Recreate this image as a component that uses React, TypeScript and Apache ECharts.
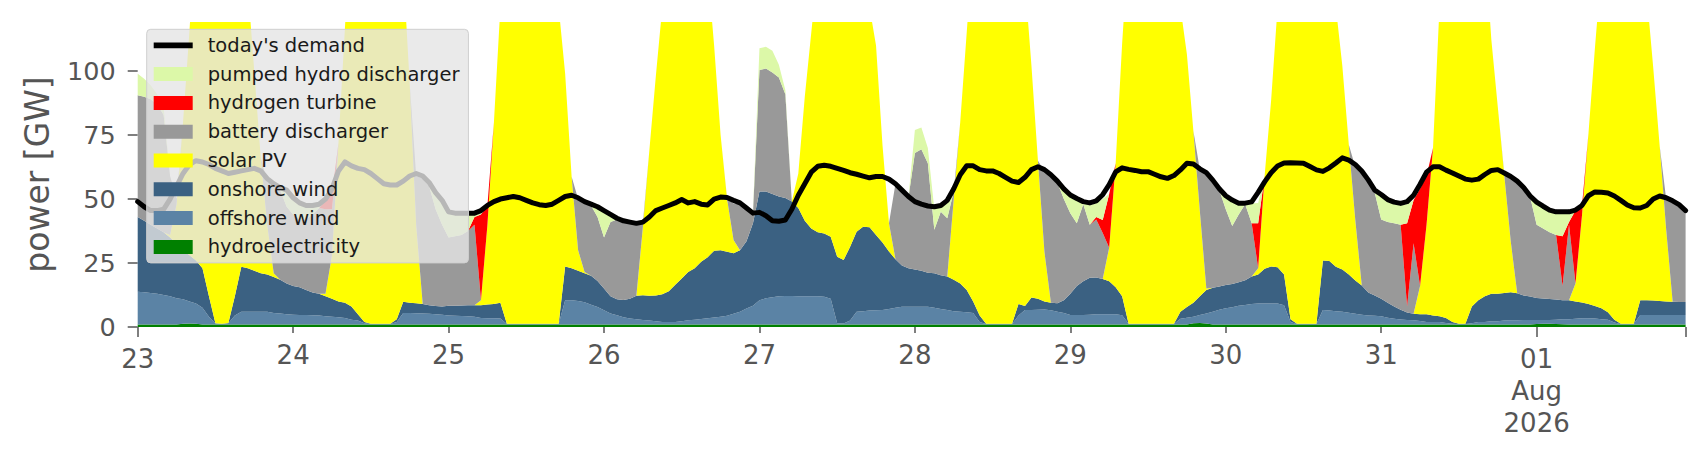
import React, { useEffect, useRef } from "react";
import * as echarts from "echarts";

// ---- tick labels (one per day) ----
const DAY_LABELS = ["23", "24", "25", "26", "27", "28", "29", "30", "31", "01\nAug\n2026"];
const START_UTC = Date.UTC(2026, 6, 23, 0, 0, 0);

// ---- hourly generation [GW], 23 Jul 00:00 .. 01 Aug 23:00 ----
const HYDRO = [
  1, 1, 1, 1, 1, 1, 1, 1.3, 1.4, 1.3, 1, 1, 1, 1, 1, 1, 1, 1, 1, 1, 1, 1, 1, 1,
  1, 1, 1, 1, 1, 1, 1, 1, 1, 1, 1, 1, 1, 1, 1, 1, 1, 1, 1, 1, 1, 1, 1, 1,
  1, 1, 1, 1, 1, 1, 1, 1, 1, 1, 1, 1, 1, 1, 1, 1, 1, 1, 1, 1, 1, 1, 1, 1,
  1, 1, 1, 1, 1, 1, 1, 1, 1, 1, 1, 1, 1, 1, 1, 1, 1, 1, 1, 1, 1, 1, 1, 1,
  1, 1, 1, 1, 1, 1, 1, 1, 1, 1, 1, 1, 1, 1, 1, 1, 1, 1, 1, 1, 1, 1, 1, 1,
  1, 1, 1, 1, 1, 1, 1, 1, 1, 1, 1, 1, 1, 1, 1, 1, 1, 1, 1, 1, 1, 1, 1, 1,
  1, 1, 1, 1, 1, 1, 1, 1, 1, 1, 1, 1, 1, 1, 1, 1, 1, 1, 1, 1.5, 1.6, 1.4, 1, 1,
  1, 1, 1, 1, 1, 1, 1, 1, 1, 1, 1, 1, 1, 1, 1, 1, 1, 1, 1, 1, 1, 1, 1, 1,
  1, 1, 1, 1, 1, 1, 1, 1, 1, 1, 1, 1, 1, 1, 1, 1, 1, 1, 1, 1, 1, 1, 1, 1,
  1.2, 1.3, 1.3, 1.2, 1.1, 1, 1, 1, 1, 1, 1, 1, 1, 1, 1, 1, 1, 1, 1, 1, 1, 1, 1, 1,
];

const OFFSHORE = [
  12.8, 12.6, 12.3, 12, 11.5, 11, 10.2, 9.5, 8.6, 7.9, 6.5, 3, 0.4, 0.2, 0.5, 3.5, 5, 5, 5, 5, 5, 4.5, 4.3, 4,
  3.8, 3.7, 3.7, 3.6, 3.5, 3.2, 3, 2.8, 2.5, 1.8, 1.5, 0.5, 0.2, 0.2, 0.2, 0.2, 1, 4.5, 4.5, 4.4, 4.3, 4.2, 4, 3.8,
  3.5, 3.4, 3.3, 3.2, 3, 2.5, 2.4, 2.4, 2.3, 0.2, 0.2, 0.2, 0.2, 0.2, 0.2, 0.2, 0.2, 0.2, 9.5, 9.5, 9.2, 8.7, 7.7, 6.8,
  5.5, 4.3, 3.6, 2.8, 2.3, 2, 1.7, 1.5, 1.2, 1, 1, 1, 1.2, 1.6, 1.8, 2.1, 2.4, 2.7, 3, 3.4, 4.2, 5, 6.2, 7.3,
  9.5, 10.2, 10.6, 11, 11.1, 11.1, 11, 11, 11, 11, 10.8, 10, 0.5, 0.4, 1.5, 5, 5.2, 5.4, 5.5, 5.6, 6, 6.5, 6.9, 6.9,
  6.9, 6.9, 6.9, 6.5, 6, 5.6, 5.2, 5, 4.8, 4.5, 1, 0.2, 0.2, 0.2, 0.2, 0.2, 3.5, 5.6, 5.6, 5.7, 5.8, 5.5, 5, 4.5,
  3.7, 3.7, 3.7, 3.8, 4, 4, 4, 4, 3.6, 0.3, 0.2, 0.2, 0.2, 0.2, 0.2, 0.2, 0.2, 2.2, 2.6, 2.5, 3.1, 3.9, 5, 5.7,
  6.3, 6.7, 7.3, 7.6, 8, 8.2, 8.2, 8.2, 8.2, 7.5, 1, 0.2, 0.2, 0.2, 0.2, 5.6, 5.4, 5.2, 5, 4.6, 4.2, 3.8, 3.5, 3.4,
  3.2, 2.6, 2.2, 1.9, 1.7, 1.6, 1.3, 1, 1, 1, 0.6, 0.3, 0.2, 0.2, 0.5, 1, 1, 1.2, 1.2, 1.5, 1.6, 1.6, 1.7, 1.7,
  1.5, 1.4, 1.4, 1.6, 1.9, 2, 2.2, 2.4, 2.4, 2.3, 2, 1.8, 0.8, 0.2, 0.2, 0.2, 3.7, 3.7, 3.7, 3.7, 3.7, 3.7, 3.7, 3.7,
];

const ONSHORE = [
  29.2, 27.9, 26.7, 25.5, 24.5, 23, 21.3, 19.2, 18, 16.8, 15.5, 8, 0.1, 0.1, 0.1, 7.5, 17.5, 17, 16, 15, 14.5, 14, 13.2, 12,
  11.2, 10.8, 9.8, 8.9, 8.5, 7.8, 7, 6.2, 6, 5.2, 2.5, 0.5, 0.1, 0.1, 0.1, 0.1, 1, 4.4, 4, 3.9, 3.7, 3.3, 3.2, 3.2,
  3.8, 3.9, 4.1, 4.3, 4.5, 5, 5.4, 5.6, 6.2, 0.1, 0.1, 0.1, 0.1, 0.1, 0.1, 0.1, 0.1, 0.1, 13.1, 12.5, 11.8, 11.3, 11.3, 10.2,
  8.5, 6.7, 6.2, 6.8, 7.7, 9.2, 9.7, 9.7, 10.1, 10.8, 12, 14.5, 16.8, 18.9, 20.2, 22.4, 23.9, 26.1, 26, 25, 23.6, 24, 26.3, 32.2,
  42.5, 41.8, 40.4, 39, 38.3, 36.9, 34.5, 29.5, 26.5, 25, 24.7, 24.3, 26, 24.8, 28.9, 31.2, 33, 32.6, 29.5, 26.4, 22.5, 19, 16.1, 15.1,
  14.6, 14.1, 13.3, 13.5, 13.2, 13.1, 12.3, 11, 8.7, 4.5, 2.5, 0.1, 0.1, 0.1, 0.1, 0.1, 4.5, 1.6, 4.9, 4.3, 3.2, 3, 3.3, 5,
  8.3, 11.3, 13.2, 14.4, 14.3, 13.8, 12.9, 10.5, 7.4, 0, 0.1, 0.1, 0.1, 0.1, 0.1, 0.1, 0.1, 2.8, 4.2, 5.5, 7.3, 9.2, 9.3, 9.1,
  9.1, 9.1, 9.2, 9.7, 10.7, 11.3, 13.6, 14.4, 14.2, 12, 1, 0.1, 0.1, 0.1, 0.1, 19.4, 19.4, 17.3, 16.5, 14.9, 13, 11.4, 9, 7.9,
  6.8, 5.9, 4.8, 3.8, 3, 2.6, 2.7, 3, 2.5, 2.2, 1.9, 0.7, 0.1, 0.1, 6.5, 8.5, 10, 10.8, 10.8, 10.8, 11, 10.6, 9.6, 9.2,
  8.6, 8.4, 8.2, 7.9, 7.5, 7.5, 6.8, 6.2, 5.6, 4.9, 4.3, 3, 1, 0.1, 0.1, 0.1, 5.8, 5.8, 5.7, 5.5, 5.3, 5.2, 5.1, 5.1,
];

const SOLAR = [
  0, 0, 0, 0, 0, 1, 15.5, 50, 88, 132, 167, 198, 213.5, 213.7, 203.4, 173, 136.5, 110, 78, 45, 19.5, 1.5, 0, 0,
  0, 0, 0, 0, 0, 1, 17, 62, 107.5, 152, 190, 213, 218.7, 218.7, 208.7, 188.7, 167, 130.1, 85.5, 30.7, 0, 0, 0, 0,
  0, 0, 0, 0, 0, 2, 31.2, 71, 115.5, 163.7, 193.7, 208.7, 213.7, 208.7, 193.7, 173.7, 148.7, 123.7, 75.4, 35.7, 8, 0.5, 0, 0,
  0, 0, 0, 0, 0, 0, 26.6, 56.8, 85.7, 112.2, 136, 153.5, 161, 158.5, 152, 134.5, 112.7, 80.2, 45, 20.6, 5.2, 0, 0, 0,
  0, 0, 0, 0, 0, 0, 13.5, 48.5, 76.5, 103, 133.5, 154.7, 172.5, 173.8, 163.6, 147.8, 120.8, 86, 74, 38, 11, 0, 0, 0,
  0, 0, 0, 0, 0, 0, 31.5, 63, 100.5, 140, 175.5, 198.7, 208.7, 213.7, 208.7, 198.7, 171, 126.8, 90.5, 54, 19.4, 0, 0, 0,
  0, 0, 0, 0, 0, 0, 13.1, 48.5, 98.8, 148.7, 178.7, 198.7, 208.7, 213.7, 208.7, 193.7, 158.7, 119, 98.8, 67.1, 33.2, 0.5, 0, 0,
  0, 0, 0, 0, 0, 2.5, 36.3, 64.8, 101.6, 139.5, 187, 203.7, 213.7, 213.7, 203.7, 159, 129.2, 101.5, 79.5, 50.7, 23.6, 0, 0, 0,
  0, 0, 0, 0, 0, 0, 11, 35, 65.5, 120.8, 156.5, 188, 203.7, 208.7, 192, 174.5, 138, 99.5, 73.1, 46.1, 19.9, 0, 0, 0,
  0, 0, 0, 0, 0, 0, 7, 34, 66.5, 100.8, 132.7, 159.2, 177.2, 183.7, 183.7, 173.7, 149.5, 119.5, 91, 60.4, 28.1, 0, 0, 0,
];

const BATTERY = [
  47.6, 48.5, 49, 48.5, 46, 23, 2, 0, 0, 0, 0, 0, 0, 0, 0, 0, 0, 0, 0, 0, 17, 34, 35, 30,
  28, 26.5, 27.5, 30.5, 33.5, 33, 18, 0, 0, 0, 0, 0, 0, 0, 0, 0, 0, 0, 0, 19, 49, 46.5, 37.8, 32,
  26.7, 27.2, 27.6, 29, 31.5, 0, 0, 0, 0, 0, 0, 0, 0, 0, 0, 0, 0, 0, 0, 0, 20, 27, 27.5, 25,
  20, 29, 31.2, 30.4, 29.5, 27.8, 1.5, 0, 0, 0, 0, 0, 0, 0, 0, 0, 0, 0, 0, 0.3, 14.3, 18, 13, 4,
  47.4, 48, 47.5, 46.5, 40.6, 0, 0, 0, 0, 0, 0, 0, 0, 0, 0, 0, 0, 0, 0, 0, 0, 29.5, 29, 27.5,
  45.5, 47.5, 42.8, 17, 24.8, 22.8, 3, 0, 0, 0, 0, 0, 0, 0, 0, 0, 0, 0, 0, 0, 31.6, 49.5, 47.2, 39.5,
  31.5, 24.5, 30.1, 20.8, 22.7, 17.9, 0, 0, 0, 0, 0, 0, 0, 0, 0, 0, 0, 0, 0, 0, 16.3, 44.5, 42.2, 37.7,
  29.6, 22.7, 26.5, 29.7, 20.8, 0, 0, 0, 0, 0, 0, 0, 0, 0, 0, 0, 0, 0, 0, 0, 20.7, 44.8, 43.5, 40.2,
  31, 31.5, 32.5, 33.3, 2.3, 27.5, 0, 0, 0, 0, 0, 0, 0, 0, 0, 0, 0, 0, 0, 0.6, 25, 43.3, 41.7, 38.9,
  28.7, 27.4, 26.1, 25.3, 5.5, 29.5, 0, 0, 0, 0, 0, 0, 0, 0, 0, 0, 0, 0, 0, 0, 11.9, 38.9, 37.5, 35.2,
];

const HYDROGEN = [
  0, 0, 0, 0, 0, 0, 0, 0, 0, 0, 0, 0, 0, 0, 0, 0, 0, 0, 0, 0, 0, 0, 0, 0,
  0, 0, 0, 0, 0, 3.5, 6, 0, 0, 0, 0, 0, 0, 0, 0, 0, 0, 0, 0, 0, 0, 0, 0, 0,
  0, 0, 0, 0, 3, 33.5, 7.5, 0, 0, 0, 0, 0, 0, 0, 0, 0, 0, 0, 0, 0, 0, 0, 0, 0,
  0, 0, 0, 0, 0, 0, 0, 0, 0, 0, 0, 0, 0, 0, 0, 0, 0, 0, 0, 0, 0, 0, 0, 0,
  0, 0, 0, 0, 0, 0, 0, 0, 0, 0, 0, 0, 0, 0, 0, 0, 0, 0, 0, 0, 0, 0, 0, 0,
  0, 0, 0, 0, 0, 0, 0, 0, 0, 0, 0, 0, 0, 0, 0, 0, 0, 0, 0, 0, 0, 0, 0, 0,
  0, 0, 0, 0, 1, 5.1, 21, 0, 0, 0, 0, 0, 0, 0, 0, 0, 0, 0, 0, 0, 0, 0, 0, 0,
  0, 0, 0, 0, 0, 17.5, 0, 0, 0, 0, 0, 0, 0, 0, 0, 0, 0, 0, 0, 0, 0, 0, 0, 0,
  0, 0, 0, 0, 32.5, 16.8, 38, 19, 0, 0, 0, 0, 0, 0, 0, 0, 0, 0, 0, 0, 0, 0, 0, 0,
  0, 0, 0, 0, 19.5, 1, 28.5, 3.7, 0, 0, 0, 0, 0, 0, 0, 0, 0, 0, 0, 0, 0, 0, 0, 0,
];

const PUMPED_HYDRO = [
  8.4, 7, 5.5, 4, 3, 0, 0, 0, 0, 0, 0, 0, 0, 0, 0, 0, 0, 0, 0, 0, 0, 0, 0, 6,
  6, 6, 5, 3, 1, 0, 0, 0, 0, 0, 0, 0, 0, 0, 0, 0, 0, 0, 0, 0, 0, 0, 6, 9,
  10, 9, 8.3, 6.5, 1.5, 1.5, 0, 0, 0, 0, 0, 0, 0, 0, 0, 0, 0, 0, 0, 0, 0, 0, 0, 3.5,
  10, 2.5, 0, 0, 0, 0, 0, 0, 0, 0, 0, 0, 0, 0, 0, 0, 0, 0, 0, 0, 0, 0, 0, 0.5,
  8.5, 8.5, 8.5, 5, 1.5, 0, 0, 0, 0, 0, 0, 0, 0, 0, 0, 0, 0, 0, 0, 0, 0, 0, 0, 0,
  9, 8.5, 6, 8, 2, 6.5, 0, 0, 0, 0, 0, 0, 0, 0, 0, 0, 0, 0, 0, 0, 0, 0, 0, 3.5,
  6.5, 9.5, 1, 7.5, 5.5, 8.2, 0, 0, 0, 0, 0, 0, 0, 0, 0, 0, 0, 0, 0, 0, 0, 0, 0, 0,
  5, 9.5, 4, 0, 7.8, 8, 0, 0, 0, 0, 0, 0, 0, 0, 0, 0, 0, 0, 0, 0, 0, 0, 0, 0,
  9, 8.2, 7.8, 7.8, 7.5, 0, 0, 0, 0, 0, 0, 0, 0, 0, 0, 0, 0, 0, 0, 0, 0, 0, 0, 0,
  8.3, 8.5, 8.5, 8.8, 9.3, 4, 0, 0, 0, 0, 0, 0, 0, 0, 0, 0, 0, 0, 0, 0, 0, 0, 0, 0,
];

const DEMAND = [
  49, 47, 45.5, 45.5, 46, 50, 55, 60, 63.5, 65, 64.5, 63.5, 62, 61, 60, 60.5, 61, 61.5, 62, 61, 58, 56, 54.5, 53.5,
  50.5, 48.5, 47.5, 47.5, 48, 50, 54, 61, 64.5, 63, 62, 61.5, 60, 58, 56, 55.5, 55.5, 57, 59, 60, 59, 56.5, 52.5, 49.5,
  45, 44.5, 44.5, 44.5, 44.5, 45.5, 47.5, 49, 50, 50.5, 51, 50.5, 49.5, 48.5, 47.8, 47.5, 48, 49.5, 51, 51.5, 50.5, 49, 48, 47,
  45.5, 44, 42.5, 41.5, 41, 40.5, 41, 43, 45.5, 46.5, 47.5, 48.5, 49.8, 48.5, 49, 48, 47.7, 50, 50.8, 50.6, 49.5, 48.5, 46.5, 44.5,
  44.8, 43.5, 41.5, 41.3, 41.8, 46, 51.5, 56, 60.5, 62.8, 63.2, 62.8, 62, 61.2, 60.3, 59.7, 59, 58.3, 58.8, 58.8, 57.8, 56, 53.5, 51,
  49, 48, 47.3, 47, 47.5, 49.5, 54, 59.5, 63, 63, 61.5, 61, 61, 60, 58.5, 57, 56.5, 58.5, 61.5, 62.6, 61.5, 59.5, 57, 54,
  51.6, 50.2, 49, 48.5, 49.3, 51.7, 55.6, 60.6, 62.2, 61.6, 61.2, 60.7, 60.7, 59.7, 58.7, 58.1, 59.2, 61.4, 64, 63.7, 61.8, 60.3, 57.4, 54,
  51.3, 49.6, 48.4, 48.4, 48.9, 52.6, 56.7, 60.3, 62.9, 64.1, 64.2, 64.1, 64, 62.7, 61.4, 60.8, 62.2, 64.1, 66.1, 65.2, 63.5, 61, 57.5, 53.5,
  51.8, 49.8, 48.8, 48.3, 49, 51.5, 55.8, 60.5, 62.6, 62.6, 61.3, 60.2, 59, 57.8, 57.4, 57.8, 59.6, 61.2, 61.5, 60.2, 58.8, 57, 54.5, 51.2,
  48.8, 47.2, 45.7, 45, 45, 45, 45.7, 47.5, 51.3, 52.8, 52.7, 52.4, 51.2, 49.5, 47.7, 46.6, 46.5, 47.5, 50, 51.2, 50.5, 49.3, 47.8, 45.5,
];

const FONT = "DejaVu Sans";
const AXIS_GREY = "#555555";

export default function App() {
  const ref = useRef<HTMLDivElement>(null);

  useEffect(() => {
    if (!ref.current) return;
    const chart = echarts.init(ref.current, null, { renderer: "svg" });
    const n = DEMAND.length;
    const cats = Array.from({ length: n }, (_, i) =>
      new Date(START_UTC + i * 3600 * 1000).toISOString().slice(0, 13)
    );
    const majorIdx = [0, 216];

    const area = (name: string, data: number[], color: string) => ({
      name,
      type: "line",
      stack: "gen",
      data,
      symbol: "none",
      showSymbol: false,
      lineStyle: { width: 0, color },
      itemStyle: { color },
      areaStyle: { color, opacity: 1 },
      emphasis: { disabled: true },
      silent: true,
      clip: true,
      z: 2,
    });

    const option: any = {
      animation: false,
      textStyle: { fontFamily: FONT },
      grid: { left: 137.7, right: 20.4, top: 22, bottom: 133, containLabel: false },
      legend: {
        orient: "vertical",
        left: 146.7,
        top: 29.3,
        z: 20,
        itemWidth: 39,
        itemHeight: 14,
        itemGap: 8.8,
        padding: [6, 9, 6, 7],
        backgroundColor: "rgba(229,229,229,0.8)",
        borderColor: "#cfcfcf",
        borderWidth: 1,
        borderRadius: 4,
        selectedMode: false,
        textStyle: { color: "#1a1a1a", fontFamily: FONT, fontSize: 19.5, lineHeight: 20, padding: [0, 0, 0, 10] },
        data: [
          { name: "today's demand", icon: "path://M0,0L40,0L40,6L0,6Z" },
          { name: "pumped hydro discharger", icon: "rect" },
          { name: "hydrogen turbine", icon: "rect" },
          { name: "battery discharger", icon: "rect" },
          { name: "solar PV", icon: "rect" },
          { name: "onshore wind", icon: "rect" },
          { name: "offshore wind", icon: "rect" },
          { name: "hydroelectricity", icon: "rect" },
        ],
      },
      xAxis: [
        {
          type: "category",
          data: cats,
          boundaryGap: false,
          axisLine: { show: false },
          splitLine: { show: false },
          axisTick: {
            show: true,
            length: 6,
            interval: (i: number) => i % 24 === 0 && majorIdx.indexOf(i) < 0,
            lineStyle: { color: AXIS_GREY, width: 1.5 },
          },
          axisLabel: {
            interval: (i: number) => i % 24 === 0,
            margin: 11.5,
            color: AXIS_GREY,
            fontFamily: FONT,
            fontSize: 26,
            lineHeight: 32,
            formatter: (_v: string, i: number) => {
              const lab = DAY_LABELS[Math.round(i / 24)] || "";
              if (majorIdx.indexOf(i) >= 0) {
                return lab.split("\n").map((s) => "{a|" + s + "}").join("\n");
              }
              return lab;
            },
            rich: {
              a: { fontSize: 26, lineHeight: 32, padding: [8, 0, 0, 0], color: AXIS_GREY, fontFamily: FONT },
            },
          },
        },
        {
          type: "category",
          data: cats,
          boundaryGap: false,
          position: "bottom",
          axisLine: { show: false },
          splitLine: { show: false },
          axisLabel: { show: false },
          axisTick: {
            show: true,
            length: 10,
            interval: (i: number) => i === 0 || i === 216 || i === n - 1,
            lineStyle: { color: AXIS_GREY, width: 1.5 },
          },
        },
      ],
      yAxis: {
        type: "value",
        min: 0,
        max: 119.2,
        interval: 25,
        axisLine: { show: false },
        splitLine: { show: false },
        axisTick: {
          show: true,
          length: 10,
          customValues: [0, 25, 50, 75, 100],
          lineStyle: { color: AXIS_GREY, width: 1.5 },
        },
        axisLabel: {
          color: AXIS_GREY,
          fontFamily: FONT,
          fontSize: 25.5,
          margin: 22,
          customValues: [0, 25, 50, 75, 100],
        },
        name: "power [GW]",
        nameLocation: "middle",
        nameGap: 84,
        nameTextStyle: { color: AXIS_GREY, fontFamily: FONT, fontSize: 33 },
      },
      series: [
        area("hydroelectricity", HYDRO, "#008000"),
        area("offshore wind", OFFSHORE, "#5b83a5"),
        area("onshore wind", ONSHORE, "#3b6182"),
        area("solar PV", SOLAR, "#ffff00"),
        area("battery discharger", BATTERY, "#999999"),
        area("hydrogen turbine", HYDROGEN, "#ff0000"),
        area("pumped hydro discharger", PUMPED_HYDRO, "#dcf8a8"),
        {
          name: "today's demand",
          type: "line",
          data: DEMAND,
          symbol: "none",
          showSymbol: false,
          lineStyle: { color: "#000000", width: 5, join: "round", cap: "round" },
          itemStyle: { color: "#000000" },
          emphasis: { disabled: true },
          silent: true,
          z: 3,
        },
      ],
    };

    chart.setOption(option);
    return () => chart.dispose();
  }, []);

  return (
    <div
      ref={ref}
      style={{ position: "fixed", left: 0, top: 0, width: 1706, height: 460, background: "#ffffff" }}
    />
  );
}
